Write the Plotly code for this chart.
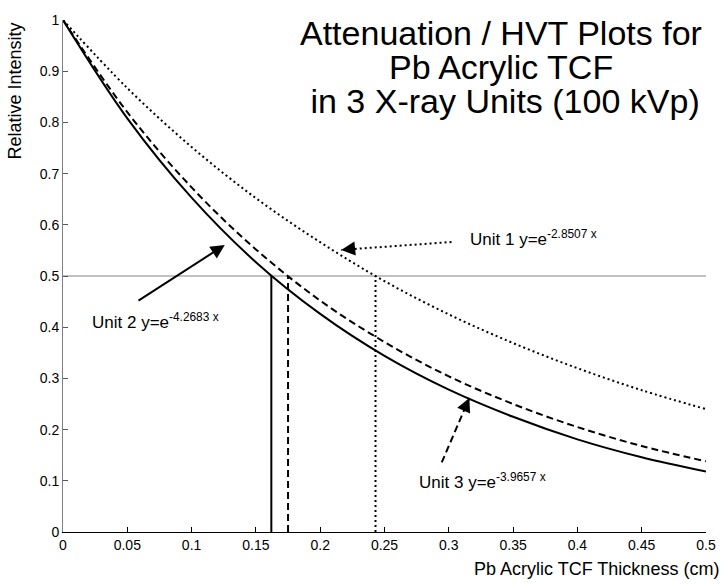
import plotly.graph_objects as go

# ---- data ----
thickness = [0, 0.05, 0.1, 0.15, 0.2, 0.25, 0.3, 0.35, 0.4, 0.45, 0.5]
unit1 = [1.0, 0.867, 0.752, 0.652, 0.566, 0.490, 0.425, 0.369, 0.320, 0.277, 0.240]
unit2 = [1.0, 0.808, 0.653, 0.527, 0.426, 0.344, 0.278, 0.225, 0.181, 0.146, 0.118]
unit3 = [1.0, 0.820, 0.673, 0.552, 0.452, 0.371, 0.304, 0.250, 0.205, 0.168, 0.138]
hvt = [0.243, 0.162, 0.175]          # unit 1, unit 2, unit 3
half_level = 0.5
labels = ["Unit 1 y=e<sup>-2.8507 x</sup>",
          "Unit 2 y=e<sup>-4.2683 x</sup>",
          "Unit 3 y=e<sup>-3.9657 x</sup>"]
title_lines = ["Attenuation / HVT Plots for", "Pb Acrylic TCF", " in 3 X-ray Units (100 kVp)"]
x_ticks = [0, 0.05, 0.1, 0.15, 0.2, 0.25, 0.3, 0.35, 0.4, 0.45, 0.5]
x_tick_text = ["0", "0.05", "0.1", "0.15", "0.2", "0.25", "0.3", "0.35", "0.4", "0.45", "0.5"]
y_ticks = [0, 0.1, 0.2, 0.3, 0.4, 0.5, 0.6, 0.7, 0.8, 0.9, 1]
y_tick_text = ["0", "0.1", "0.2", "0.3", "0.4", "0.5", "0.6", "0.7", "0.8", "0.9", "1"]

FONT = "Liberation Sans, Arial, sans-serif"
dashes = ["2px,3px", "solid", "7px,4px"]

fig = go.Figure()

# half-value horizontal line
fig.add_trace(go.Scatter(x=[x_ticks[0], x_ticks[-1]], y=[half_level, half_level], mode="lines",
                         line=dict(color="#c0c0c0", width=2), hoverinfo="skip"))

for ys, d in zip([unit1, unit2, unit3], dashes):
    fig.add_trace(go.Scatter(x=thickness, y=ys, mode="lines", line_shape="spline",
                             line=dict(color="black", width=2, dash=d)))

for h, d in zip(hvt, dashes):
    fig.add_trace(go.Scatter(x=[h, h], y=[0, half_level], mode="lines",
                             line=dict(color="black", width=2, dash=d)))

ann = []
# title lines
title_y = [0.9738, 0.9078, 0.8419]
for t, ty in zip(title_lines, title_y):
    ann.append(dict(text=t, xref="paper", yref="paper", x=0.681, y=ty,
                    xanchor="center", yanchor="middle", showarrow=False,
                    font=dict(family=FONT, size=34, color="black")))

# axis titles
ann.append(dict(text="Relative Intensity", xref="paper", yref="paper", x=-0.074, y=0.861,
                textangle=-90, xanchor="center", yanchor="middle", showarrow=False,
                font=dict(family=FONT, size=18, color="black")))
ann.append(dict(text="Pb Acrylic TCF Thickness (cm)", xref="paper", yref="paper", x=1.024, y=-0.072,
                xanchor="right", yanchor="middle", showarrow=False,
                font=dict(family=FONT, size=18, color="black")))

# curve labels
lab_pos = [(0.3150, 0.574), (0.0207, 0.413), (0.2753, 0.099)]
for t, (lx, ly) in zip(labels, lab_pos):
    ann.append(dict(text=t, x=lx, y=ly, xref="x", yref="y", xanchor="left", yanchor="middle",
                    showarrow=False, font=dict(family=FONT, size=17, color="black")))

# Unit 2 solid arrow
ann.append(dict(text="", x=0.1258, y=0.5606, ax=0.0575, ay=0.450, xref="x", yref="y",
                axref="x", ayref="y", showarrow=True, arrowhead=2, arrowsize=1.4,
                arrowwidth=2, arrowcolor="black", standoff=0))
# arrowheads for dotted / dashed arrows
ann.append(dict(text="", x=0.2163, y=0.551, ax=10, ay=-1, xref="x", yref="y",
                showarrow=True, arrowhead=2, arrowsize=1.4, arrowwidth=2,
                arrowcolor="black", standoff=0))
ann.append(dict(text="", x=0.316, y=0.2619, ax=-4, ay=9, xref="x", yref="y",
                showarrow=True, arrowhead=2, arrowsize=1.4, arrowwidth=2,
                arrowcolor="black", standoff=0))

shapes = [
    dict(type="line", xref="x", yref="y", x0=0.3021, y0=0.5664, x1=0.2163, y1=0.551,
         line=dict(color="black", width=2, dash="2px,3px")),
    dict(type="line", xref="x", yref="y", x0=0.2945, y0=0.1358, x1=0.316, y1=0.2619,
         line=dict(color="black", width=2, dash="7px,4px")),
]

fig.update_layout(
    width=728, height=584,
    margin=dict(l=63, r=13, t=17, b=52),
    paper_bgcolor="white", plot_bgcolor="white",
    showlegend=False,
    annotations=ann, shapes=shapes,
    font=dict(family=FONT, size=14, color="black"),
    xaxis=dict(range=[0, 0.5], tickvals=x_ticks, ticktext=x_tick_text, ticks="inside",
               ticklen=5, tickcolor="black", showline=True, linecolor="black", linewidth=1,
               showgrid=False, zeroline=False, tickfont=dict(size=14)),
    yaxis=dict(range=[0, 1], tickvals=y_ticks, ticktext=y_tick_text, ticks="inside",
               ticklen=5, tickcolor="#555555", showline=True, linecolor="#808080", linewidth=1,
               showgrid=False, zeroline=False, tickfont=dict(size=14)),
)

fig.write_html("out.html")
